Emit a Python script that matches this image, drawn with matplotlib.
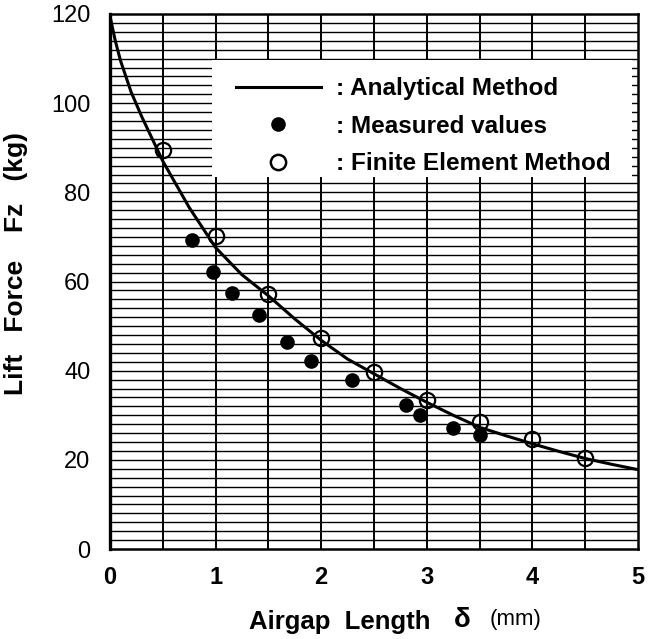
import matplotlib
matplotlib.use("Agg")
import matplotlib.pyplot as plt
from matplotlib.patches import Rectangle
from matplotlib.lines import Line2D

plt.rcParams['font.family'] = ['Liberation Sans', 'DejaVu Sans']

# analytical curve
curve_x = [0.0, 0.05, 0.1, 0.2, 0.3, 0.4, 0.5, 0.75, 1.0, 1.25, 1.5, 1.75, 2.0,
           2.25, 2.5, 2.75, 3.0, 3.25, 3.5, 3.75, 4.0, 4.25, 4.5, 4.75, 5.0]
curve_y = [119.5, 114, 109.5, 102.5, 97, 92, 87, 76.6, 67.6, 61.5, 56.8, 51.6, 46.8,
           42.6, 39.3, 36.0, 32.9, 30.0, 27.3, 25.4, 23.6, 21.9, 20.3, 19.0, 17.8]

# measured values (filled dots)
meas_x = [0.78, 0.98, 1.16, 1.41, 1.68, 1.9, 2.29, 2.8, 2.94, 3.25, 3.5]
meas_y = [69.2, 62.2, 57.5, 52.4, 46.5, 42.2, 37.8, 32.4, 30.1, 27.2, 25.6]

# finite element method (open circles)
fem_x = [0.5, 1.0, 1.5, 2.0, 2.5, 3.0, 3.5, 4.0, 4.5]
fem_y = [89.6, 70.3, 57.3, 47.4, 39.6, 33.5, 28.5, 24.7, 20.5]

x_ticks = [0, 1, 2, 3, 4, 5]
y_ticks = [0, 20, 40, 60, 80, 100, 120]

W, H = 649, 639
fig = plt.figure(figsize=(W / 100, H / 100), dpi=100)
ax = fig.add_axes([110 / W, 1 - 549 / H, 528 / W, 535 / H])

ax.set_xlim(0, 5)
ax.set_ylim(0, 120)

# grid: verticals every 0.5, horizontals every 2
for gx in [i * 0.5 for i in range(1, 10)]:
    ax.axvline(gx, color='black', lw=1.4, zorder=1)
for gy in range(2, 120, 2):
    ax.axhline(gy, color='black', lw=1.0, zorder=1)

ax.plot(curve_x, curve_y, color='black', lw=2.2, zorder=4)
ax.plot(meas_x, meas_y, 'o', color='black', ms=9.5, zorder=5)
ax.plot(fem_x, fem_y, 'o', mfc='none', mec='black', mew=1.6, ms=11, zorder=5)

# white legend box over the grid
ax.add_patch(Rectangle((0.193, 0.695), 0.796, 0.219, transform=ax.transAxes,
                       facecolor='white', edgecolor='none', zorder=2))
handles = [Line2D([], [], color='black', lw=2.2),
           Line2D([], [], ls='none', marker='o', color='black', ms=9.5),
           Line2D([], [], ls='none', marker='o', mfc='none', mec='black', mew=1.8, ms=11)]
labels = [': Analytical Method', ': Measured values', ': Finite Element Method']
leg = ax.legend(handles, labels, loc='upper left', bbox_to_anchor=(0.238, 0.882),
                frameon=False, handlelength=3.5, handletextpad=0.62,
                labelspacing=0.6, borderpad=0, borderaxespad=0,
                prop={'weight': 'bold', 'size': 17.5})
leg.set_zorder(6)

for s in ax.spines.values():
    s.set_linewidth(1.8)
ax.spines['left'].set_linewidth(2.4)

ax.set_xticks(x_ticks)
ax.set_yticks(y_ticks)
ax.tick_params(length=0)
ax.tick_params(axis='x', pad=12)
ax.tick_params(axis='y', pad=14)
ax.set_xticklabels([str(v) for v in x_ticks], fontsize=17, fontweight='bold')
ax.set_yticklabels([str(v) for v in y_ticks], fontsize=17)

# axis labels, placed in pixel positions
def fx(px):
    return px / W

def fy(py):
    return 1 - py / H

fig.text(fx(340), fy(622), 'Airgap  Length', fontsize=18.5, fontweight='bold',
         ha='center', va='center')
fig.text(fx(462), fy(620), 'δ', fontsize=20, fontweight='bold', ha='center', va='center')
fig.text(fx(516), fy(620), '(mm)', fontsize=16, ha='center', va='center')
fig.text(fx(16), fy(327), 'Lift   Force', fontsize=19, fontweight='bold',
         rotation=90, ha='center', va='center')
fig.text(fx(16), fy(182), 'Fz   (kg)', fontsize=19, fontweight='bold',
         rotation=90, ha='center', va='center')

fig.savefig('out.png', dpi=100)
